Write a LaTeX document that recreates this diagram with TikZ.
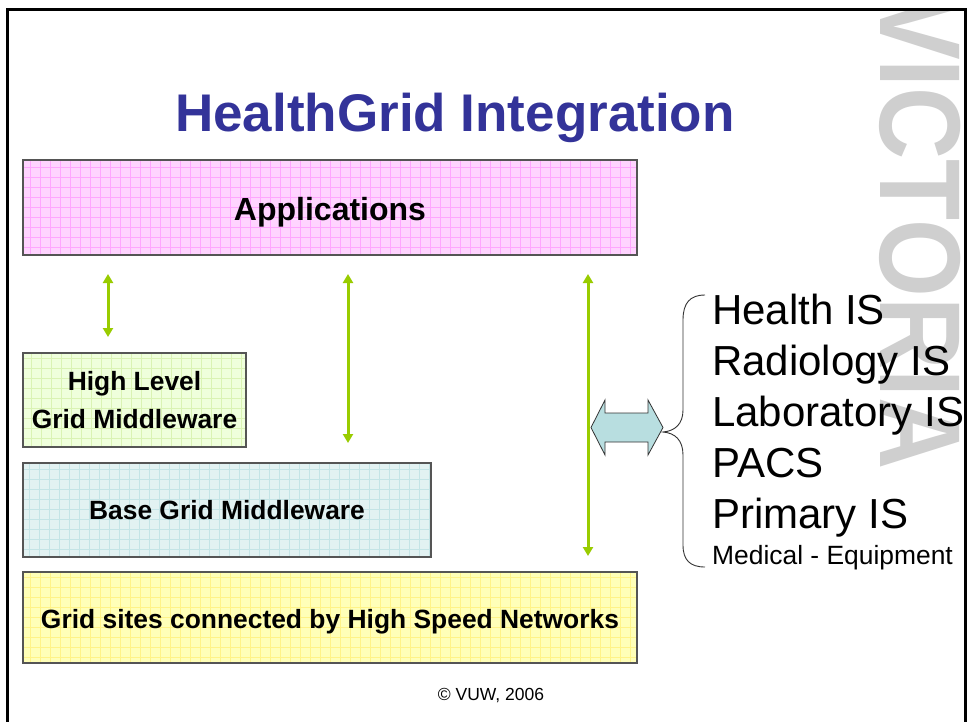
\documentclass[tikz,border=0pt]{standalone}
\usepackage{fontspec}
\setmainfont{Liberation Sans}
\usetikzlibrary{arrows.meta}
\definecolor{titleblue}{HTML}{333399}
\definecolor{arrgreen}{HTML}{99CC00}
\definecolor{boxedge}{HTML}{555555}
\definecolor{pinkfill}{HTML}{FFD4FF}
\definecolor{pinkline}{HTML}{FFA6FF}
\definecolor{greenfill}{HTML}{EFFFDC}
\definecolor{greenline}{HTML}{DAF3B4}
\definecolor{cyanfill}{HTML}{E2F2F2}
\definecolor{cyanline}{HTML}{C4E4E6}
\definecolor{yellowfill}{HTML}{FFFFB8}
\definecolor{yellowline}{HTML}{FFF388}
\definecolor{dblfill}{HTML}{B8DEE0}
\definecolor{wmgray}{HTML}{CFCFCF}
\tikzset{
  layerbox/.style 2 args={draw=boxedge, line width=1.3pt, fill=#1, inner sep=0pt,
    font=\bfseries\fontsize{26.4}{38}\selectfont, align=center,
    path picture={\draw[#2, line width=0.7pt] (path picture bounding box.south west)
      grid[step=10pt] (path picture bounding box.north east);}},
  boxlabel/.style={inner sep=0pt, font=\bfseries\fontsize{26.4}{38}\selectfont},
  garrow/.style={draw=arrgreen, line width=3pt,
    {Triangle[width=10pt,length=9pt]}-{Triangle[width=10pt,length=9pt]}},
  listitem/.style={anchor=base west, inner sep=0pt, font=\fontsize{42}{48}\selectfont},
}
\begin{document}
\begin{tikzpicture}[x=1pt,y=-1pt]
\useasboundingbox (0,0) rectangle (967,721);
\fill[white] (0,0) rectangle (967,721);
% watermark
\begin{scope}
\clip (7,9) rectangle (965,721);
\node[rotate=-90, yscale=1.15, anchor=base west, inner sep=0pt, text=wmgray,
  font=\bfseries\fontsize{100}{100}\selectfont] (wm) at (880,-7) {VICTORIA};
\end{scope}
% frame
\draw[line width=3pt, black] (7,725) -- (7,9) -- (965,9) -- (965,725);
% title
\node[anchor=base, inner sep=0pt, text=titleblue, font=\bfseries\fontsize{53}{60}\selectfont]
  (title) at (455,131) {HealthGrid Integration};
% layers
\node[layerbox={pinkfill}{pinkline}, minimum width=614pt, minimum height=95pt] (app) at (330,207.5) {};
\node[boxlabel, anchor=base, font=\bfseries\fontsize{32}{38}\selectfont] (applbl) at (330,220) {Applications};
\node[layerbox={greenfill}{greenline}, minimum width=223pt, minimum height=94pt] (hl) at (134.5,400)
  {High Level\\Grid Middleware};
\node[layerbox={cyanfill}{cyanline}, minimum width=408pt, minimum height=94pt] (base) at (227,510)
  {Base Grid Middleware};
\node[layerbox={yellowfill}{yellowline}, minimum width=614pt, minimum height=91pt] (grid) at (330,617.5) {};
\node[boxlabel, anchor=base] (gridlbl) at (330,628) {Grid sites connected by High Speed Networks};
% green arrows
\coordinate (a1t) at (108,274); \coordinate (a1b) at (108,337);
\coordinate (a2t) at (348,274); \coordinate (a2b) at (348,443);
\coordinate (a3t) at (588,274); \coordinate (a3b) at (588,556);
\draw[garrow] (a1t) -- (a1b);
\draw[garrow] (a2t) -- (a2b);
\draw[garrow] (a3t) -- (a3b);
% double arrow
\draw[fill=dblfill, draw=black!80, line width=0.8pt]
  (591,427.5) -- (605,400) -- (605,413) -- (648,413) -- (648,400) -- (663,427.5)
  -- (648,455) -- (648,442) -- (605,442) -- (605,455) -- cycle;
% brace
\draw[black!80, line width=0.9pt]
  (705,295) .. controls (690,295) and (683,303) .. (683,320) -- (683,410)
  .. controls (683,424) and (675,431) .. (663,432)
  .. controls (675,433) and (683,440) .. (683,455) -- (683,545)
  .. controls (683,560) and (690,567) .. (705,567);
% list
\node[listitem] (l1) at (712,324) {Health IS};
\node[listitem] (l2) at (712,375) {Radiology IS};
\node[listitem] (l3) at (712,426) {Laboratory IS};
\node[listitem] (l4) at (712,477) {PACS};
\node[listitem] (l5) at (712,528) {Primary IS};
\node[listitem, font=\fontsize{26.4}{30}\selectfont] (l6) at (712,564) {Medical - Equipment};
% footer
\node[anchor=base, inner sep=0pt, font=\fontsize{17.5}{20}\selectfont] (foot) at (491,700) {© VUW, 2006};
\end{tikzpicture}
\end{document}
